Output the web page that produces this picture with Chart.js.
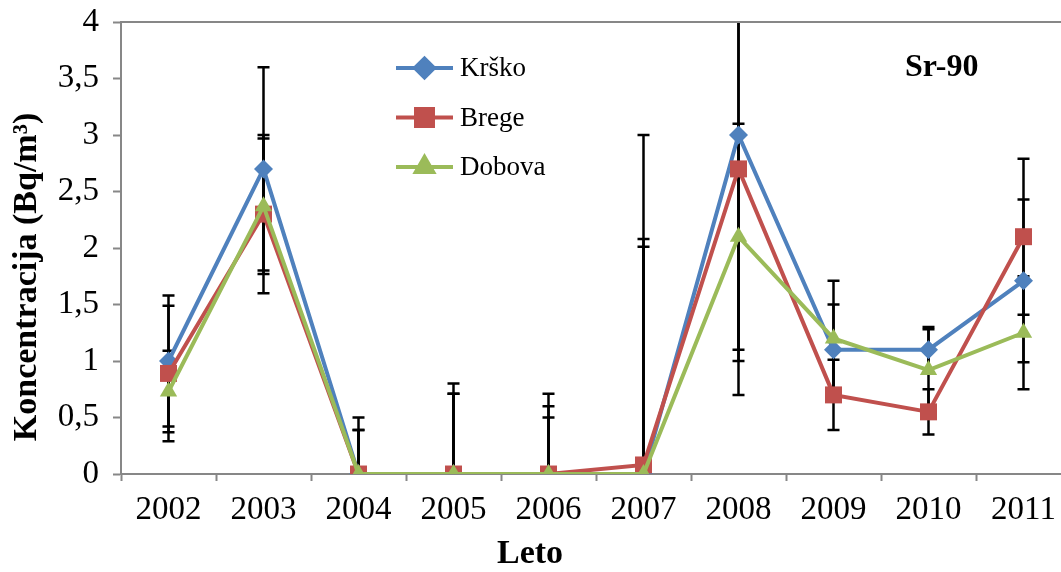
<!DOCTYPE html>
<html>
<head>
<meta charset="utf-8">
<script src="https://cdn.jsdelivr.net/npm/chart.js@4/dist/chart.umd.min.js"></script>
<style>
  html, body { margin: 0; padding: 0; background: #fff; overflow: hidden; }
  #wrap { width: 1075px; height: 572px; }
</style>
</head>
<body>
<div id="wrap"><canvas id="chart_canvas" width="1075" height="572"></canvas></div>
<script>
// leta in vrednosti (Bq/m3)
const leta = ['2002', '2003', '2004', '2005', '2006', '2007', '2008', '2009', '2010', '2011'];
const krsko = [1.0, 2.7, 0, 0, 0, 0, 3.0, 1.1, 1.1, 1.71];
const brege = [0.89, 2.3, 0, 0, 0, 0.08, 2.7, 0.7, 0.55, 2.1];
const dobova = [0.73, 2.37, 0, 0, 0, 0, 2.1, 1.2, 0.92, 1.25];
// negotovosti (+/-)
const krskoErr = [0.58, 0.9, 0.5, 0.8, 0.71, 3.0, 2.0, 0.4, 0.2, 0.72];
const bregeErr = [0.6, 0.7, 0.39, 0.71, 0.6, 2.0, 2.0, 0.31, 0.2, 0.69];
const dobovaErr = [0.36, 0.6, 0.39, 0.71, 0.5, 2.01, 1.0, 0.51, 0.36, 0.5];

const serif = "'Liberation Serif', 'Times New Roman', serif";
const axisGray = '#878787';

// error bars (pod crtami)
const errorBars = {
    id: 'errorBars',
    beforeDatasetsDraw(chart) {
        const { ctx, chartArea, scales: { x, y } } = chart;
        ctx.save();
        ctx.beginPath();
        ctx.rect(chartArea.left, chartArea.top - 1, chartArea.right - chartArea.left, chartArea.bottom - chartArea.top + 1);
        ctx.clip();
        ctx.strokeStyle = '#000';
        ctx.lineWidth = 2.5;
        chart.data.datasets.forEach(ds => {
            ds.err.forEach((e, i) => {
                const px = x.getPixelForValue(i);
                const lo = y.getPixelForValue(Math.max(0, ds.data[i] - e));
                const hi = y.getPixelForValue(ds.data[i] + e);
                ctx.beginPath();
                ctx.moveTo(px, lo);
                ctx.lineTo(px, hi);
                if (ds.data[i] - e > 0) {
                    ctx.moveTo(px - 6, lo);
                    ctx.lineTo(px + 6, lo);
                }
                ctx.moveTo(px - 6, hi);
                ctx.lineTo(px + 6, hi);
                ctx.stroke();
            });
        });
        ctx.restore();

        // zgornja meja
        ctx.save();
        ctx.strokeStyle = axisGray;
        ctx.lineWidth = 2;
        ctx.beginPath();
        ctx.moveTo(chartArea.left, chartArea.top);
        ctx.lineTo(chartArea.right, chartArea.top);
        ctx.stroke();
        ctx.restore();
    },
    afterDraw(chart) {
        const { ctx } = chart;
        ctx.save();
        // legenda
        chart.data.datasets.forEach((ds, i) => {
            const yy = 68 + i * 49.5;
            ctx.strokeStyle = ds.borderColor;
            ctx.lineWidth = 4;
            ctx.beginPath();
            ctx.moveTo(396, yy);
            ctx.lineTo(453, yy);
            ctx.stroke();
            Chart.helpers.drawPoint(ctx, {
                pointStyle: ds.pointStyle,
                radius: ds.pointRadius,
                borderWidth: 1
            }, 424.5, yy);
            ctx.fillStyle = ds.backgroundColor;
            ctx.fill();
            ctx.fillStyle = '#000';
            ctx.font = '27px ' + serif;
            ctx.textBaseline = 'middle';
            ctx.textAlign = 'left';
            ctx.fillText(ds.label, 460, yy + 1);
        });
        ctx.font = 'bold 32px ' + serif;
        ctx.fillText('Sr-90', 905, 68);

        // naslovi osi
        ctx.font = 'bold 34px ' + serif;
        ctx.textAlign = 'center';
        ctx.fillText('Leto', 530, 554);
        ctx.translate(27, 277);
        ctx.rotate(-Math.PI / 2);
        ctx.fillText('Koncentracija (Bq/m³)', 0, 0);
        ctx.restore();
    }
};

function makeSet(label, data, err, color, style, r, order) {
    return {
        label: label,
        data: data,
        err: err,
        borderColor: color,
        backgroundColor: color,
        borderWidth: 4,
        pointStyle: style,
        pointRadius: r,
        pointBorderWidth: 0,
        tension: 0,
        order: order
    };
}

const canva = document.getElementById('chart_canvas');
const myChart = new Chart(canva, {
    type: 'line',
    data: {
        labels: leta,
        datasets: [
            makeSet('Krško', krsko, krskoErr, '#4F81BD', 'rectRot', 9.5, 3),
            makeSet('Brege', brege, bregeErr, '#C0504D', 'rect', 12, 2),
            makeSet('Dobova', dobova, dobovaErr, '#9BBB59', 'triangle', 10, 1)
        ]
    },
    options: {
        responsive: false,
        animation: false,
        layout: { autoPadding: false, padding: { top: 22, right: 4, left: 0, bottom: 0 } },
        plugins: {
            legend: { display: false },
            tooltip: { enabled: false }
        },
        scales: {
            x: {
                offset: true,
                grid: {
                    display: true,
                    offset: true,
                    drawOnChartArea: false,
                    tickLength: 7,
                    tickWidth: 2,
                    tickColor: axisGray
                },
                border: { color: axisGray, width: 2 },
                ticks: {
                    color: '#000',
                    font: { family: serif, size: 33 },
                    padding: 10,
                    maxRotation: 0,
                    autoSkip: false
                },
                afterFit(scale) {
                    scale.height = 98;
                    scale.paddingLeft = 0;
                    scale.paddingRight = 0;
                }
            },
            y: {
                min: 0,
                max: 4,
                grid: {
                    display: true,
                    drawOnChartArea: false,
                    tickLength: 8,
                    tickWidth: 2,
                    tickColor: axisGray
                },
                border: { color: axisGray, width: 2 },
                ticks: {
                    stepSize: 0.5,
                    color: '#000',
                    font: { family: serif, size: 33 },
                    padding: 14,
                    callback: v => String(v).replace('.', ',')
                },
                afterFit(scale) {
                    scale.width = 121;
                    scale.paddingTop = 0;
                    scale.paddingBottom = 0;
                }
            }
        }
    },
    plugins: [errorBars]
});
</script>
</body>
</html>
